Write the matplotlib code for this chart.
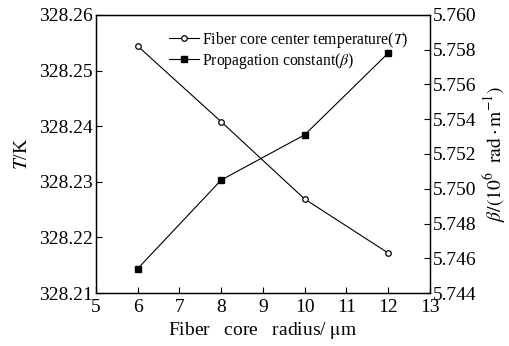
import numpy as np
import matplotlib.pyplot as plt

plt.rcParams['font.family'] = ['Liberation Serif', 'DejaVu Serif']
plt.rcParams['mathtext.fontset'] = 'stix'

radius = [6, 8, 10, 12]
temp = [328.2544, 328.2408, 328.2269, 328.2172]
beta = [5.7454, 5.7505, 5.7531, 5.7578]

xticks = [5, 6, 7, 8, 9, 10, 11, 12, 13]
temp_ticks = [328.21, 328.22, 328.23, 328.24, 328.25, 328.26]
beta_ticks = [5.744, 5.746, 5.748, 5.750, 5.752, 5.754, 5.756, 5.758, 5.760]

fig = plt.figure(figsize=(5.1, 3.46), dpi=100)
ax = fig.add_axes([0.188, 0.153, 0.655, 0.804])
ax2 = ax.twinx()

l1, = ax.plot(radius, temp, color='black', lw=0.8, marker='o', ms=4,
              mfc='white', mec='black', mew=0.9,
              label='Fiber core center temperature($T$)')
l2, = ax2.plot(radius, beta, color='black', lw=0.8, marker='s', ms=4,
               mfc='black', mec='black',
               label=r'Propagation constant($\beta$)')

ax.set_xlim(5, 13)
ax.set_ylim(328.21, 328.26)
ax2.set_ylim(5.744, 5.760)
ax.set_xticks(xticks)
ax.set_yticks(temp_ticks)
ax.set_yticklabels(['%.2f' % t for t in temp_ticks])
ax2.set_yticks(beta_ticks)
ax2.set_yticklabels(['%.3f' % t for t in beta_ticks])

ax.tick_params(direction='in', labelsize=14, length=4, width=0.8, pad=2)
ax2.tick_params(direction='in', labelsize=14, length=4, width=0.8, pad=2)
ax.tick_params(axis='x', pad=4)
for a in (ax, ax2):
    for s in a.spines.values():
        s.set_linewidth(0.9)

ax.set_xlabel('Fiber   core   radius/ $\\mathrm{\\mu}$m', fontsize=14, labelpad=3)
ax.set_ylabel('$T$/K', fontsize=14, labelpad=6)
ax2.set_ylabel(r'$\beta/(10^6\ \ \mathrm{rad\cdot m^{-1}})$', fontsize=14, labelpad=4)

ax.legend(handles=[l1, l2], loc='upper left', bbox_to_anchor=(0.19, 0.98),
          frameon=False, fontsize=11.3, handlelength=1.9, handletextpad=0.2,
          labelspacing=0.05, borderaxespad=0.2)

fig.savefig('out.png', dpi=100)
